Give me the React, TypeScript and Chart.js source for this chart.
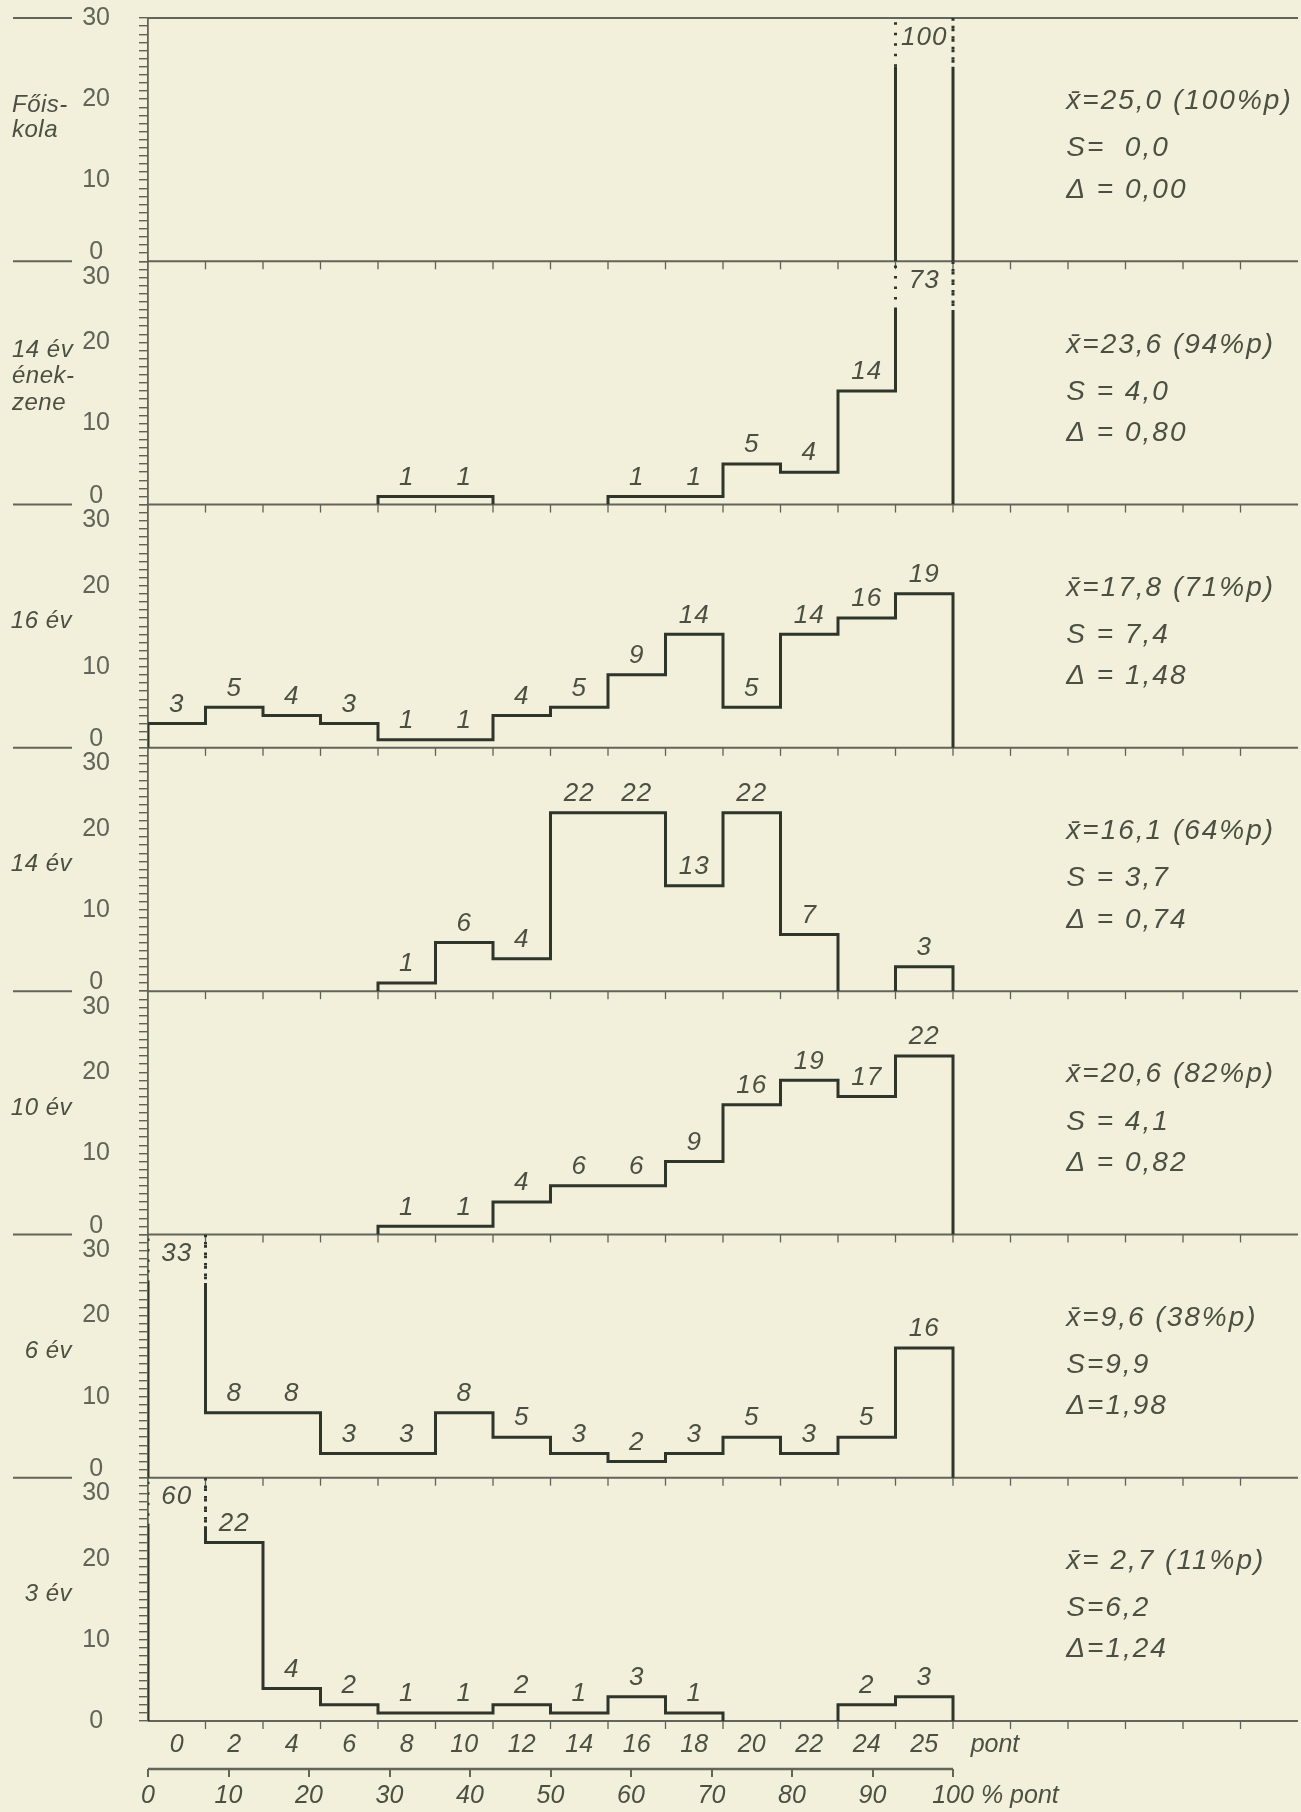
import React, { useEffect, useRef } from 'react';
import { Chart, registerables } from 'chart.js';

Chart.register(...registerables);

// ---------- data ----------
const binLabels = ['0', '2', '4', '6', '8', '10', '12', '14', '16', '18', '20', '22', '24', '25'];
const percentTicks = [0, 10, 20, 30, 40, 50, 60, 70, 80, 90, 100];

const groupNames = [['Főis-', 'kola'], ['14 év', 'ének-', 'zene'], ['16 év'], ['14 év'], ['10 év'], ['6 év'], ['3 év']];

const foiskola = [0, 0, 0, 0, 0, 0, 0, 0, 0, 0, 0, 0, 0, 100];
const enekZene14 = [0, 0, 0, 0, 1, 1, 0, 0, 1, 1, 5, 4, 14, 73];
const ev16 = [3, 5, 4, 3, 1, 1, 4, 5, 9, 14, 5, 14, 16, 19];
const ev14 = [0, 0, 0, 0, 1, 6, 4, 22, 22, 13, 22, 7, 0, 3];
const ev10 = [0, 0, 0, 0, 1, 1, 4, 6, 6, 9, 16, 19, 17, 22];
const ev6 = [33, 8, 8, 3, 3, 8, 5, 3, 2, 3, 5, 3, 5, 16];
const ev3 = [60, 22, 4, 2, 1, 1, 2, 1, 3, 1, 0, 0, 2, 3];

const seriesList = [foiskola, enekZene14, ev16, ev14, ev10, ev6, ev3];

const meanLabels = [
  'x\u0304=25,0 (100%p)',
  'x\u0304=23,6 (94%p)',
  'x\u0304=17,8 (71%p)',
  'x\u0304=16,1 (64%p)',
  'x\u0304=20,6 (82%p)',
  'x\u0304=9,6 (38%p)',
  'x\u0304= 2,7 (11%p)',
];
const sdLabels = ['S=  0,0', 'S = 4,0', 'S = 7,4', 'S = 3,7', 'S = 4,1', 'S=9,9', 'S=6,2'];
const deltaLabels = ['Δ = 0,00', 'Δ = 0,80', 'Δ = 1,48', 'Δ = 0,74', 'Δ = 0,82', 'Δ=1,98', 'Δ=1,24'];

// ---------- styling constants ----------
const Y_MAX = 30;
const DOT_FROM = 24;
const X_MAX = 20;
const BG = '#f2efdb';
const INK = '#2e352b';
const TEXT = '#4b5043';
const AXIS = '#62655a';
const TICK = '#5f6255';
const SANS = '"Liberation Sans", Arial, sans-serif';
const NARROW = '"Liberation Sans Narrow", "Liberation Sans", sans-serif';

type Pt = { x: number; y: number };

function outline(counts: number[]): Pt[] {
  const pts: Pt[] = [];
  const push = (x: number, y: number) => {
    const last = pts[pts.length - 1];
    if (last && last.x === x && last.y === y) return;
    pts.push({ x, y });
  };
  const vertical = (x: number, from: number, to: number) => {
    push(x, from);
    const lo = Math.min(from, to);
    const hi = Math.max(from, to);
    if (lo < DOT_FROM && hi > DOT_FROM) push(x, DOT_FROM);
    push(x, to);
  };
  let prev = 0;
  counts.forEach((c, i) => {
    const v = Math.min(c, Y_MAX);
    vertical(i, prev, v);
    push(i + 1, v);
    prev = v;
  });
  vertical(counts.length, prev, 0);
  return pts;
}

const nameLevels = [[19.2, 16.2], [19.0, 15.8, 12.5], [15.6], [15.6], [15.6], [15.6], [15.6]];
const statLevels = [19.7, 13.9, 8.8];
const STAT_X = 15.97;

const decorPlugin = {
  id: 'decor',
  beforeDatasetsDraw(chart: any) {
    const { ctx, chartArea } = chart;
    const x = chart.scales.x;
    const x2 = chart.scales.x2;
    ctx.save();
    for (let k = 0; k < seriesList.length; k++) {
      const ys = chart.scales['y' + k];
      const levels = [ys.getPixelForValue(0)];
      if (k === 0) levels.push(ys.getPixelForValue(Y_MAX));
      levels.forEach((py: number, j: number) => {
        ctx.strokeStyle = AXIS;
        ctx.lineWidth = 2;
        ctx.beginPath();
        ctx.moveTo(chartArea.left, py);
        ctx.lineTo(chartArea.right, py);
        ctx.stroke();
        // left stub
        if (k < seriesList.length - 1 || j === 1) {
          ctx.beginPath();
          ctx.moveTo(13, py);
          ctx.lineTo(72, py);
          ctx.stroke();
        }
      });
      // bin-edge ticks below the baseline
      const yb = ys.getPixelForValue(0);
      ctx.strokeStyle = TICK;
      ctx.lineWidth = 1.3;
      for (let i = 1; i < X_MAX; i++) {
        const px = x.getPixelForValue(i);
        ctx.beginPath();
        ctx.moveTo(px, yb);
        ctx.lineTo(px, yb + 8);
        ctx.stroke();
      }
    }
    // percent axis line
    ctx.strokeStyle = AXIS;
    ctx.lineWidth = 2.5;
    ctx.beginPath();
    ctx.moveTo(x2.getPixelForValue(0), x2.top);
    ctx.lineTo(x2.getPixelForValue(100), x2.top);
    ctx.stroke();
    ctx.restore();
  },
  afterDatasetsDraw(chart: any) {
    const { ctx } = chart;
    const x = chart.scales.x;
    ctx.save();
    ctx.fillStyle = TEXT;
    for (let k = 0; k < seriesList.length; k++) {
      const ys = chart.scales['y' + k];
      // value labels
      ctx.font = `italic 26px ${SANS}`;
      (ctx as any).letterSpacing = '1px';
      ctx.textAlign = 'center';
      seriesList[k].forEach((c, i) => {
        if (!c) return;
        const cx = x.getPixelForValue(i + 0.5);
        if (c > Y_MAX) {
          ctx.textBaseline = 'middle';
          ctx.fillText(String(c), cx, ys.getPixelForValue(27.6));
        } else {
          ctx.textBaseline = 'bottom';
          ctx.fillText(String(c), cx, ys.getPixelForValue(c) - 6);
        }
      });
      // statistics
      ctx.font = `italic 28px ${SANS}`;
      (ctx as any).letterSpacing = '2px';
      ctx.textAlign = 'left';
      ctx.textBaseline = 'middle';
      const sx = x.getPixelForValue(STAT_X);
      [meanLabels[k], sdLabels[k], deltaLabels[k]].forEach((t, j) => {
        ctx.fillText(t, sx, ys.getPixelForValue(statLevels[j]));
      });
      // group names
      ctx.font = `italic 24px ${SANS}`;
      (ctx as any).letterSpacing = '0.5px';
      const names = groupNames[k];
      names.forEach((t, j) => {
        const py = ys.getPixelForValue(nameLevels[k][j]);
        if (names.length > 1) {
          ctx.textAlign = 'left';
          ctx.fillText(t, 12, py);
        } else {
          ctx.textAlign = 'right';
          ctx.fillText(t, 72, py);
        }
      });
    }
    ctx.restore();
  },
};

export default function App() {
  const canvasRef = useRef<HTMLCanvasElement | null>(null);

  useEffect(() => {
    document.body.style.margin = '0';
    document.body.style.overflow = 'hidden';
    document.body.style.background = BG;
    const canvas = canvasRef.current;
    if (!canvas) return;

    const n = seriesList.length;
    const scales: any = {
      x: {
        type: 'linear',
        position: 'bottom',
        min: 0,
        max: X_MAX,
        grid: { display: false },
        border: { display: false },
        afterBuildTicks: (s: any) => {
          s.ticks = binLabels.map((_, i) => ({ value: i + 0.5 })).concat([{ value: 14.73 }]);
        },
        afterFit: (s: any) => {
          s.height = 48;
          s.paddingLeft = 0;
          s.paddingRight = 0;
        },
        ticks: {
          autoSkip: false,
          maxRotation: 0,
          padding: 1,
          color: TEXT,
          font: { family: SANS, size: 25, style: 'italic' },
          callback: (_v: any, i: number) => (i < binLabels.length ? binLabels[i] : 'pont'),
        },
      },
      x2: {
        type: 'linear',
        position: 'bottom',
        min: 0,
        max: (100 * X_MAX) / binLabels.length,
        border: { display: false },
        grid: {
          drawOnChartArea: false,
          drawTicks: true,
          tickLength: 8,
          lineWidth: 2,
          color: (c: any) => (c.tick && c.tick.value > 100 ? 'rgba(0,0,0,0)' : AXIS),
        },
        afterBuildTicks: (s: any) => {
          s.ticks = percentTicks.map((v) => ({ value: v })).concat([{ value: 108.3 }]);
        },
        afterFit: (s: any) => {
          s.height = 43;
          s.paddingLeft = 0;
          s.paddingRight = 0;
        },
        ticks: {
          autoSkip: false,
          maxRotation: 0,
          padding: 4,
          color: TEXT,
          font: { family: SANS, size: 25, style: 'italic' },
          callback: (v: number) => (v > 100 ? '% pont' : String(v)),
        },
      },
    };

    for (let k = 0; k < n; k++) {
      scales['y' + k] = {
        type: 'linear',
        position: 'left',
        stack: 'panels',
        stackWeight: 1,
        weight: n - k,
        min: 0,
        max: Y_MAX,
        offset: false,
        border: { display: true, color: AXIS, width: 1.8 },
        grid: { drawOnChartArea: false, drawTicks: true, tickLength: 9, color: TICK, lineWidth: 1.4 },
        afterBuildTicks: (s: any) => {
          s.ticks = Array.from({ length: Y_MAX + 1 }, (_, i) => ({ value: i }));
        },
        afterFit: (s: any) => {
          s.width = 148;
          s.paddingTop = 0;
          s.paddingBottom = 0;
        },
        ticks: {
          autoSkip: false,
          padding: 29,
          crossAlign: 'center',
          color: '#62645a',
          font: (c: any) => {
            const v = c.tick ? c.tick.value : -1;
            return { family: NARROW, size: 25, lineHeight: v === 0 ? 0.7 : v === Y_MAX ? 1.25 : 1.2 };
          },
          callback: (v: number) => {
            if (v % 10 !== 0) return '';
            if (v === 0 && k < n - 1) return ['0', ''];
            if (v === Y_MAX && k > 0) return ['', '30'];
            return String(v);
          },
        },
      };
    }

    const datasets = seriesList.map((counts, k) => ({
      label: groupNames[k].join(''),
      data: outline(counts),
      xAxisID: 'x',
      yAxisID: 'y' + k,
      borderColor: INK,
      borderWidth: 3,
      pointRadius: 0,
      tension: 0,
      fill: false,
      segment: {
        borderDash: (c: any) => {
          const a = c.p0.parsed;
          const b = c.p1.parsed;
          return a.x === b.x && Math.min(a.y, b.y) >= DOT_FROM ? [2.5, 8] : undefined;
        },
        borderColor: (c: any) => {
          const a = c.p0.parsed;
          const b = c.p1.parsed;
          if (a.y === b.y && (a.y === 0 || a.y >= Y_MAX)) return 'rgba(0,0,0,0)';
          return undefined;
        },
      },
    }));

    const chart = new Chart(canvas, {
      type: 'line',
      data: { datasets },
      options: {
        animation: false,
        responsive: false,
        devicePixelRatio: 1,
        layout: { padding: { top: 18, right: 3, left: 0, bottom: 0 } },
        plugins: { legend: { display: false }, tooltip: { enabled: false } },
        scales,
      } as any,
      plugins: [decorPlugin],
    });
    return () => chart.destroy();
  }, []);

  return (
    <div style={{ position: 'absolute', left: 0, top: 0, width: 1301, height: 1812, background: BG }}>
      <canvas ref={canvasRef} width={1301} height={1812} style={{ display: 'block' }} />
    </div>
  );
}
